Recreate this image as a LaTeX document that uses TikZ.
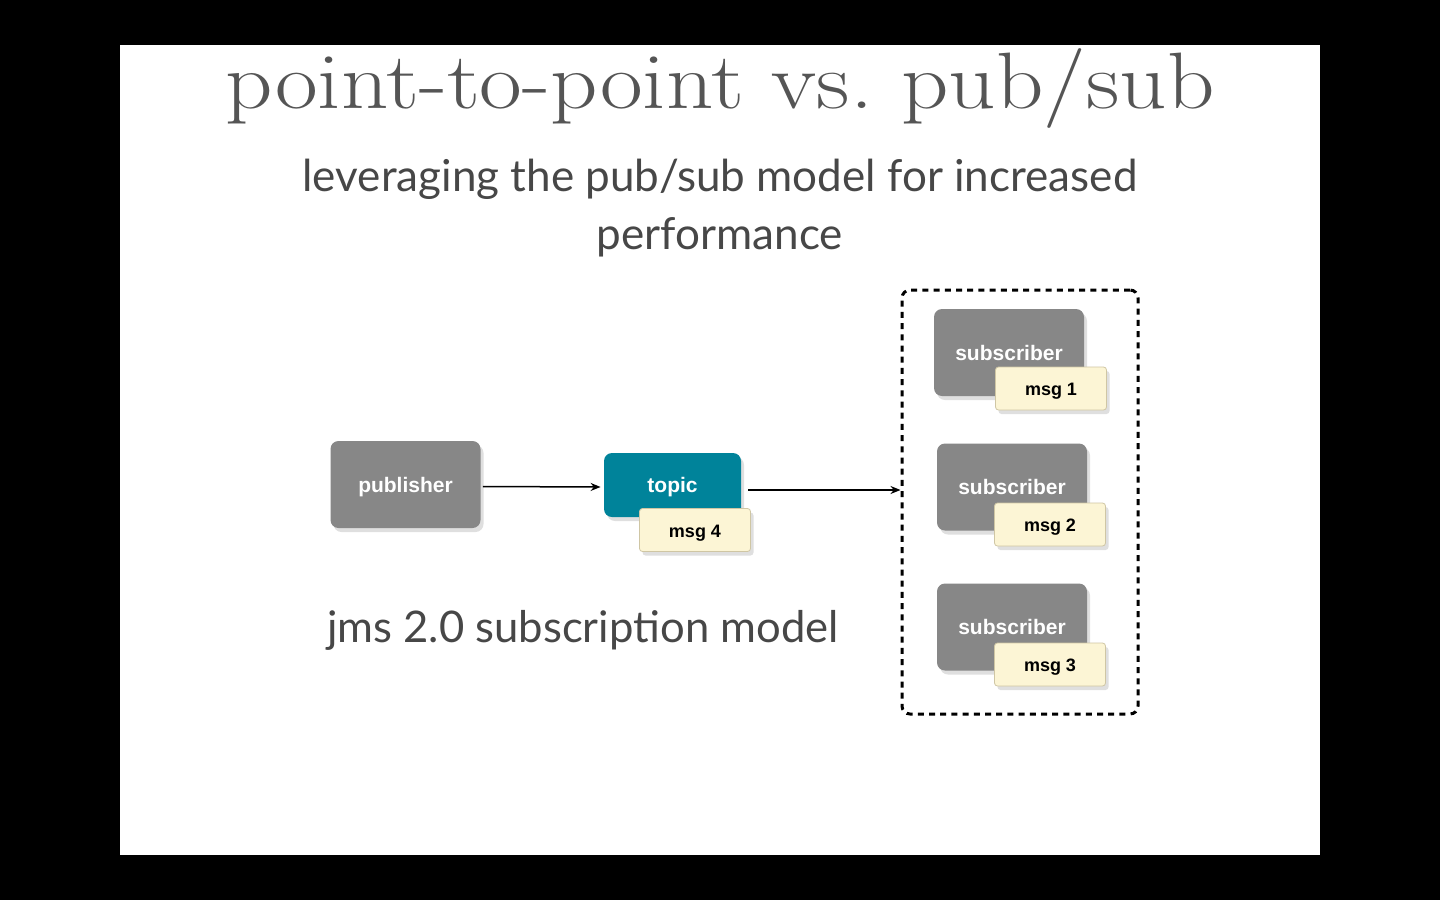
\documentclass[tikz,border=0pt]{standalone}
\usepackage{fontspec}
\newfontfamily\slidefont{Lato}
\newfontfamily\boxfont{Liberation Sans}
\usetikzlibrary{shadows,arrows.meta}
\definecolor{boxgray}{HTML}{878787}
\definecolor{topicteal}{HTML}{00839A}
\definecolor{msgcream}{HTML}{FCF5D5}
\definecolor{msgline}{HTML}{CFC6A4}
\definecolor{titlegray}{HTML}{555555}
\definecolor{textgray}{HTML}{474747}
\begin{document}
\begin{tikzpicture}[x=0.5pt,y=-0.5pt,
  shade/.style={drop shadow={shadow xshift=1.5pt,shadow yshift=-2pt,opacity=0.25}},
  actor/.style={rectangle,rounded corners=4pt,fill=boxgray,shade,text=white,
    font=\boxfont\fontsize{10.5}{12}\selectfont\bfseries,text height=7.8pt,text depth=0pt,
    minimum width=75pt,minimum height=43.5pt},
  topicbox/.style={actor,fill=topicteal,minimum width=68.5pt,minimum height=32pt},
  msgbox/.style={rectangle,rounded corners=1.5pt,fill=msgcream,draw=msgline,line width=0.4pt,shade,
    font=\boxfont\fontsize{9}{11}\selectfont\bfseries,text height=7pt,text depth=0pt,
    minimum width=55.5pt,minimum height=21.5pt},
  flow/.style={-{Stealth[length=5pt,width=4pt]},line width=0.75pt},
  group/.style={rectangle,draw,rounded corners=4pt,line width=1.5pt,dash pattern=on 3pt off 2.6pt,
    minimum width=118pt,minimum height=212pt}]
\fill[black] (0,0) rectangle (1440,900);
\fill[white] (120,45) rectangle (1320,855);

% heading
\node[text=titlegray,font=\fontsize{40}{44}\selectfont,anchor=base] (title) at (720,108)
  {\scalebox{1.16}[1]{point-to-point vs.\ pub/sub}};
\node[text=textgray,font=\slidefont\fontsize{22}{29}\selectfont,align=center] (subtitle) at (720,208)
  {leveraging the pub/sub model for increased\\performance};
\node[text=textgray,font=\slidefont\fontsize{21.8}{29}\selectfont] (caption) at (583,630) {jms 2.0 subscription model};

% publisher and topic
\node[actor] (pub) at (405.5,484.5) {publisher};
\node[topicbox] (topic) at (672.5,485) {topic};
\node[msgbox] (msg4) at (695,530) {msg 4};

% subscribers
\node[group] (grp) at (1020,502) {};
\node[actor] (sub1) at (1009,352.5) {subscriber};
\node[msgbox] (msg1) at (1051,388.5) {msg 1};
\node[actor] (sub2) at (1012,487) {subscriber};
\node[msgbox] (msg2) at (1050,524.5) {msg 2};
\node[actor] (sub3) at (1012,627) {subscriber};
\node[msgbox] (msg3) at (1050,664.5) {msg 3};

\draw[flow] ([xshift=1pt,yshift=-1pt]pub.east) -- ([xshift=-1.5pt,yshift=-1pt]topic.west);
\draw[flow] ([xshift=3.5pt,yshift=-2.5pt]topic.east) -- ([yshift=-2.5pt]topic.east -| grp.west);
\end{tikzpicture}
\end{document}
